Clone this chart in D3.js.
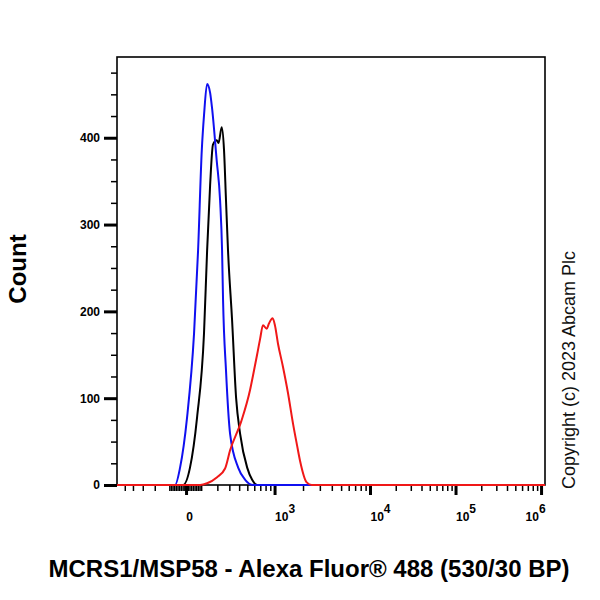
<!DOCTYPE html>
<html>
<head>
<meta charset="utf-8">
<script src="https://cdn.jsdelivr.net/npm/d3@7"></script>
<style>
body { margin: 0; background: #fff; }
text { font-family: "Liberation Sans", Arial, sans-serif; }
</style>
</head>
<body>
<script>
// overlaid flow histograms: [fluorescence, count]
var blueData = [[-65,0],[-35,20],[6,78],[47,175],[71,270],[94,386],[108,426],[128,462],[148,452],[161,435],
  [195,374],[221,328],[237,270],[245,213],[270,132],[307,59],[389,20],[472,6],[583,0]];
var blackData = [[-17,0],[23,20],[65,78],[108,175],[128,270],[148,345],[168,392],[195,397],[209,394],[234,412],
  [253,386],[270,328],[288,270],[326,190],[367,100],[411,59],[498,20],[568,6],[645,0]];
var redData = [[83,0],[128,2],[198,9],[262,19],[307,40],[423,73],[539,110],[583,127],[645,150],[696,168],
  [750,184],[822,180],[870,186],[953,192],[1009,184],[1087,163],[1230,136],[1389,106],[1568,71],[1729,46],
  [1860,28],[2186,3],[2464,0]];

var yMajor = [0, 100, 200, 300, 400];
var yMinor = [25, 50, 75, 125, 150, 175, 225, 250, 275, 325, 350, 375, 425, 450, 475];
var xMajor = [0, 1e3, 1e4, 1e5, 1e6];
var xExp = ["", "3", "4", "5", "6"];
var xNeg = [-500, -400, -300, -200, -100];
var xNearZero = [-90, -80, -70, -60, -50, -40, -30, -20, -10, 10, 20, 30, 40, 50, 60, 70, 80, 90];
var multiples = [2, 3, 4, 5, 6, 7, 8, 9];

var width = 600, height = 600;
var mLeft = 117, mRight = 545, mTop = 57, mBottom = 485;

// biexponential-ish display: linear near zero, log further out
var W = 243;
function biex(v) { return Math.asinh(v / W); }
var xMin = -613, xMax = 1.112e6;

var x = d3.scaleLinear()
  .domain([biex(xMin), biex(1e4), biex(xMax)])
  .range([mLeft, 370, mRight]);
var y = d3.scaleLinear().domain([0, 493]).range([mBottom, mTop]);

var svg = d3.select("body").append("svg")
  .attr("width", width)
  .attr("height", height);

svg.append("rect")
  .attr("x", mLeft).attr("y", mTop)
  .attr("width", mRight - mLeft).attr("height", mBottom - mTop)
  .attr("fill", "none").attr("stroke", "#000").attr("stroke-width", 1.6);

// y axis
var yMinorAxis = d3.axisLeft(y).tickValues(yMinor).tickSize(6).tickFormat("");
var yMajorAxis = d3.axisLeft(y).tickValues(yMajor).tickSize(13).tickPadding(4);

var gyMin = svg.append("g").attr("transform", "translate(" + mLeft + ",0)").call(yMinorAxis);
var gy = svg.append("g").attr("transform", "translate(" + mLeft + ",0)").call(yMajorAxis);
[gyMin, gy].forEach(function(g) { g.select(".domain").remove(); });
gyMin.selectAll("line").attr("stroke-width", 1.5);
gy.selectAll("line").attr("stroke-width", 3);
gy.selectAll("text")
  .style("font-size", "12px").style("font-weight", "bold").attr("fill", "#000");

// x axis
var minorVals = xNeg.concat(xNearZero);
minorVals = minorVals.concat(multiples.map(function(m) { return m * 100; }));
[1e3, 1e4, 1e5].forEach(function(dec) {
  multiples.forEach(function(m) { minorVals.push(m * dec); });
});

var xMinorAxis = d3.axisBottom(x).tickValues(minorVals.map(biex)).tickSize(6).tickFormat("");
var xMajorAxis = d3.axisBottom(x).tickValues(xMajor.map(biex)).tickSize(10).tickPadding(17)
  .tickFormat(function(d, i) { return xMajor[i] === 0 ? "0" : "10"; });

var gxMin = svg.append("g").attr("transform", "translate(0," + mBottom + ")").call(xMinorAxis);
var gx = svg.append("g").attr("transform", "translate(0," + mBottom + ")").call(xMajorAxis);
[gxMin, gx].forEach(function(g) { g.select(".domain").remove(); });
gxMin.selectAll("line").attr("stroke-width", 1.5);
gx.selectAll("line").attr("stroke-width", 3);

gx.selectAll("text")
  .style("font-size", "12px").style("font-weight", "bold").attr("fill", "#000")
  .attr("dx", function(d, i) { return i === 0 ? 3 : (i === xMajor.length - 1 ? -6 : 10); })
  .each(function(d, i) {
    if (xExp[i]) {
      d3.select(this).append("tspan")
        .attr("dy", "-0.6em")
        .text(xExp[i]);
    }
  });

// histograms
var line = d3.line()
  .x(function(d) { return x(biex(d[0])); })
  .y(function(d) { return y(d[1]); })
  .curve(d3.curveMonotoneX);

function withBase(arr) {
  return [[xMin, 0]].concat(arr).concat([[xMax, 0]]);
}

[[blackData, "#000"], [blueData, "#1010f0"], [redData, "#f01818"]].forEach(function(s) {
  svg.append("path")
    .datum(withBase(s[0]))
    .attr("d", line)
    .attr("fill", "none")
    .attr("stroke", s[1])
    .attr("stroke-width", 2)
    .attr("stroke-linejoin", "round");
});

// titles
svg.append("text")
  .attr("transform", "translate(26,269) rotate(-90)")
  .attr("text-anchor", "middle")
  .style("font-size", "24px").style("font-weight", "bold")
  .text("Count");

svg.append("text")
  .attr("x", 309).attr("y", 577)
  .attr("text-anchor", "middle")
  .style("font-size", "24px").style("font-weight", "bold")
  .text("MCRS1/MSP58 - Alexa Fluor® 488 (530/30 BP)");

svg.append("text")
  .attr("transform", "translate(575,370) rotate(-90)")
  .attr("text-anchor", "middle")
  .style("font-size", "18px")
  .attr("fill", "#111")
  .text("Copyright (c) 2023 Abcam Plc");
</script>
</body>
</html>
